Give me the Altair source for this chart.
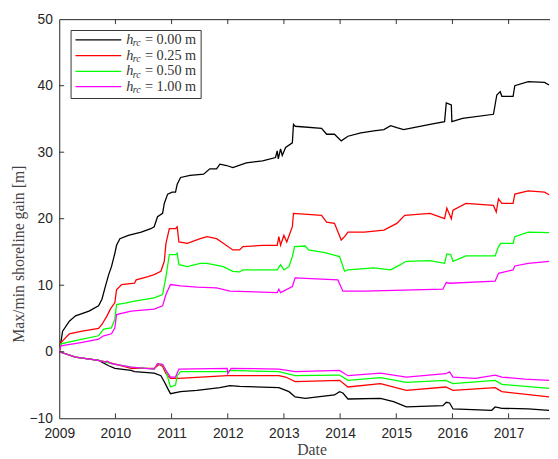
import altair as alt
import pandas as pd

# ---------------- data ----------------
series_names = ["0.00 m", "0.25 m", "0.50 m", "1.00 m"]
series_colors = ["#000000", "#ff0000", "#00ff00", "#ff00ff"]

bk_max_x = [2009.00, 2009.03, 2009.06, 2009.18, 2009.29, 2009.53, 2009.70, 2009.76, 2009.82, 2009.88,
            2009.93, 2009.99, 2010.02, 2010.08, 2010.23, 2010.46, 2010.63, 2010.69, 2010.75, 2010.84,
            2010.87, 2010.93, 2011.01, 2011.07, 2011.10, 2011.16, 2011.33, 2011.57, 2011.68, 2011.80,
            2011.86, 2011.98, 2012.09, 2012.33, 2012.62, 2012.85, 2012.88, 2012.90, 2012.94, 2012.97,
            2013.03, 2013.15, 2013.17, 2013.20, 2013.67, 2013.76, 2013.90, 2014.02, 2014.14, 2014.37,
            2014.60, 2014.78, 2014.90, 2015.01, 2015.13, 2015.60, 2015.86, 2015.89, 2015.98, 2015.99,
            2016.18, 2016.73, 2016.79, 2016.85, 2016.88, 2017.08, 2017.11, 2017.35, 2017.64, 2017.72]
bk_max_y = [0.0, 1.5, 3.1, 4.6, 5.4, 6.1, 6.9, 7.9, 9.8, 11.6,
            12.8, 14.8, 16.0, 17.0, 17.5, 18.0, 18.5, 18.8, 20.3, 20.8,
            22.3, 23.7, 24.0, 24.0, 25.2, 26.2, 26.5, 26.7, 27.5, 27.5,
            28.2, 28.0, 27.7, 28.4, 28.7, 29.2, 30.2, 29.0, 30.5, 29.5,
            30.7, 31.4, 34.2, 33.9, 33.6, 32.7, 32.7, 31.7, 32.4, 32.9,
            33.2, 33.4, 34.0, 33.7, 33.4, 34.2, 34.6, 37.4, 37.1, 34.6,
            35.1, 35.7, 38.6, 39.1, 38.4, 38.4, 40.0, 40.6, 40.5, 40.1]

rd_max_x = [2009.00, 2009.03, 2009.18, 2009.41, 2009.70, 2009.76, 2009.85, 2009.91, 2009.99, 2010.02,
            2010.11, 2010.34, 2010.37, 2010.58, 2010.69, 2010.81, 2010.87, 2010.90, 2010.96, 2011.07,
            2011.10, 2011.13, 2011.28, 2011.51, 2011.63, 2011.80, 2011.92, 2012.09, 2012.21, 2012.27,
            2012.62, 2012.88, 2012.91, 2012.94, 2013.00, 2013.05, 2013.15, 2013.17, 2013.67, 2013.76,
            2013.90, 2014.02, 2014.08, 2014.14, 2014.43, 2014.78, 2015.01, 2015.15, 2015.60, 2015.86,
            2015.90, 2015.98, 2016.01, 2016.24, 2016.73, 2016.78, 2016.82, 2016.88, 2017.08, 2017.11,
            2017.35, 2017.64, 2017.72]
rd_max_y = [0.0, 1.4, 2.7, 3.1, 3.5, 4.1, 5.4, 6.4, 7.4, 9.3,
            10.1, 10.3, 10.8, 11.3, 11.6, 12.1, 13.6, 16.3, 18.5, 18.5,
            18.8, 16.5, 16.3, 17.0, 17.3, 17.0, 16.3, 15.3, 15.3, 15.8,
            16.0, 16.0, 17.3, 16.0, 17.5, 16.5, 18.8, 20.8, 20.5, 19.5,
            19.3, 16.8, 17.3, 18.0, 18.0, 18.3, 19.3, 20.5, 20.8, 20.0,
            21.6, 20.0, 21.3, 22.3, 22.0, 21.0, 23.0, 22.3, 22.3, 23.7,
            24.2, 24.0, 23.6]

gr_max_x = [2009.00, 2009.03, 2009.41, 2009.70, 2009.79, 2009.93, 2009.99, 2010.02, 2010.17, 2010.34,
            2010.69, 2010.84, 2010.90, 2010.96, 2011.07, 2011.10, 2011.13, 2011.28, 2011.51, 2011.63,
            2011.92, 2012.09, 2012.21, 2012.27, 2012.88, 2012.94, 2013.00, 2013.09, 2013.15, 2013.19,
            2013.38, 2013.44, 2013.73, 2013.99, 2014.08, 2014.14, 2014.60, 2014.90, 2015.01, 2015.18,
            2015.60, 2015.86, 2015.90, 2015.97, 2016.01, 2016.24, 2016.76, 2016.82, 2016.86, 2017.08,
            2017.11, 2017.35, 2017.72]
gr_max_y = [0.0, 1.2, 1.9, 2.4, 3.4, 3.6, 4.9, 7.1, 7.3, 7.6,
            8.1, 8.6, 11.3, 14.6, 14.6, 14.8, 13.1, 12.8, 13.3, 13.3,
            12.8, 12.1, 12.0, 12.3, 12.3, 13.1, 12.3, 12.8, 14.3, 15.8,
            15.9, 15.3, 14.9, 14.3, 12.1, 12.3, 12.6, 12.3, 12.8, 13.6,
            13.7, 13.3, 14.7, 14.6, 13.6, 14.4, 14.4, 15.8, 16.3, 16.3,
            17.3, 18.0, 17.9]

mg_max_x = [2009.00, 2009.03, 2009.41, 2009.70, 2009.79, 2009.93, 2009.99, 2010.02, 2010.28, 2010.69,
            2010.84, 2010.90, 2010.98, 2011.16, 2011.45, 2011.80, 2012.04, 2012.88, 2012.91, 2012.94,
            2013.15, 2013.20, 2013.96, 2014.05, 2014.43, 2015.83, 2015.89, 2015.95, 2016.76, 2016.82,
            2017.08, 2017.11, 2017.35, 2017.72]
mg_max_y = [0.0, 0.9, 1.4, 1.9, 2.4, 2.7, 3.6, 5.6, 6.1, 6.4,
            6.9, 8.6, 10.1, 9.9, 9.7, 9.6, 9.1, 8.9, 9.4, 8.9,
            9.8, 11.1, 10.8, 9.1, 9.1, 9.4, 10.4, 10.3, 10.6, 11.8,
            12.3, 12.9, 13.3, 13.6]

bk_min_x = [2009.00, 2009.29, 2009.70, 2009.88, 2009.99, 2010.28, 2010.34, 2010.69, 2010.81, 2010.87,
            2010.93, 2010.98, 2011.16, 2011.45, 2011.86, 2012.04, 2012.21, 2012.91, 2013.09, 2013.20,
            2013.38, 2013.90, 2013.99, 2014.05, 2014.14, 2014.72, 2014.95, 2015.18, 2015.83, 2015.89,
            2015.95, 2016.01, 2016.70, 2016.76, 2016.88, 2017.35, 2017.72]
bk_min_y = [0.0, -0.8, -1.3, -2.1, -2.5, -2.8, -3.0, -3.2, -3.6, -4.5,
            -5.5, -6.3, -6.0, -5.8, -5.4, -5.1, -5.2, -5.4, -6.0, -6.8,
            -7.0, -6.5, -6.0, -6.2, -7.1, -7.0, -7.5, -8.3, -8.1, -7.6,
            -7.7, -8.6, -8.8, -8.3, -8.5, -8.6, -8.8]

rd_min_x = [2009.00, 2009.29, 2009.70, 2009.88, 2010.28, 2010.69, 2010.78, 2010.84, 2010.90, 2010.98,
            2011.13, 2011.99, 2012.91, 2013.03, 2013.20, 2013.99, 2014.14, 2014.72, 2015.18, 2015.88,
            2016.01, 2016.76, 2016.88, 2017.72]
rd_min_y = [0.0, -0.8, -1.3, -1.6, -2.5, -2.5, -1.9, -2.2, -3.3, -4.0,
            -4.0, -3.6, -3.6, -3.8, -4.5, -4.3, -5.3, -4.8, -5.8, -5.3,
            -5.8, -5.4, -6.0, -6.8]

gr_min_x = [2009.00, 2009.29, 2009.70, 2009.93, 2010.28, 2010.69, 2010.75, 2010.84, 2010.90, 2010.98,
            2011.07, 2011.10, 2011.16, 2011.99, 2012.04, 2012.91, 2013.20, 2013.99, 2014.14, 2014.72,
            2015.18, 2015.88, 2016.01, 2016.76, 2016.88, 2017.72]
gr_min_y = [0.0, -0.8, -1.3, -1.8, -2.3, -2.6, -1.8, -2.0, -2.9, -5.3,
            -5.0, -3.6, -3.0, -3.0, -2.8, -3.0, -3.6, -3.5, -4.3, -3.9,
            -4.6, -4.3, -4.8, -4.3, -4.9, -5.5]

mg_min_x = [2009.00, 2009.29, 2009.70, 2009.82, 2009.85, 2009.93, 2010.28, 2010.69, 2010.75, 2010.84,
            2010.90, 2010.98, 2011.07, 2011.13, 2011.99, 2012.00, 2012.06, 2012.91, 2013.20, 2013.99,
            2014.14, 2014.72, 2015.18, 2015.88, 2015.95, 2016.01, 2016.41, 2016.76, 2016.88, 2017.29,
            2017.72]
mg_min_y = [0.0, -0.8, -1.3, -1.6, -1.4, -1.8, -2.3, -2.6, -1.8, -1.9,
            -2.8, -3.8, -3.8, -2.6, -2.5, -3.3, -2.5, -2.6, -3.0, -2.8,
            -3.6, -3.2, -3.8, -3.3, -3.0, -3.8, -4.0, -3.5, -3.8, -4.1,
            -4.3]

x_ticks = [2009, 2010, 2011, 2012, 2013, 2014, 2015, 2016, 2017]
y_ticks = [-10, 0, 10, 20, 30, 40, 50]
legend_rows = ["= 0.00 m", "= 0.25 m", "= 0.50 m", "= 1.00 m"]

# ---------------- layout ----------------
W, H = 498, 405
X_MAX = 2009 + W / 57.0
TICK = 5

curves = [
    (0, bk_max_x, bk_max_y), (0, bk_min_x, bk_min_y),
    (1, rd_max_x, rd_max_y), (1, rd_min_x, rd_min_y),
    (2, gr_max_x, gr_max_y), (2, gr_min_x, gr_min_y),
    (3, mg_max_x, mg_max_y), (3, mg_min_x, mg_min_y),
]

X = alt.X("year:Q",
          scale=alt.Scale(domain=[2009, X_MAX], nice=False, zero=False),
          axis=alt.Axis(values=x_ticks, format="d", title="Date", labelPadding=9,
                        labelFlush=False, labelOverlap=False, titleX=256, titleY=24,
                        titleBaseline="top", titleAlign="center"))
Y = alt.Y("value:Q",
          scale=alt.Scale(domain=[-10, 50], nice=False, zero=False),
          axis=alt.Axis(values=y_ticks, title="Max/min shoreline gain [m]", labelPadding=7,
                        labelFlush=False, labelOverlap=False, titleX=-33, titleY=238,
                        titleBaseline="bottom", titleAlign="center", titleAngle=270))

layers = []
for si, xs, ys in curves:
    d = pd.DataFrame({"year": xs, "value": ys, "idx": list(range(len(xs)))})
    layers.append(
        alt.Chart(d).mark_line(strokeWidth=1.3, clip=True, color=series_colors[si])
        .encode(x=X, y=Y, order="idx:Q")
    )

# inward ticks (MATLAB style)
xt = pd.DataFrame({"year": x_ticks[1:]})
yt = pd.DataFrame({"value": y_ticks[1:-1]})
tick_color = "#333333"
layers.append(alt.Chart(xt).mark_rule(color=tick_color, strokeWidth=1)
              .encode(x=X, y=alt.value(H), y2=alt.value(H - TICK)))
layers.append(alt.Chart(xt).mark_rule(color=tick_color, strokeWidth=1)
              .encode(x=X, y=alt.value(0), y2=alt.value(TICK)))
layers.append(alt.Chart(yt).mark_rule(color=tick_color, strokeWidth=1)
              .encode(y=Y, x=alt.value(0), x2=alt.value(TICK)))

# legend box
one = pd.DataFrame({"a": [0]})
layers.append(alt.Chart(one).mark_rect(fill="white", stroke="#333333", strokeWidth=1)
              .encode(x=alt.value(12), x2=alt.value(144), y=alt.value(11.5), y2=alt.value(80.5)))
row_y = [21, 37, 53, 68.5]
for i, lab in enumerate(legend_rows):
    ry = row_y[i]
    layers.append(alt.Chart(one).mark_rule(color=series_colors[i], strokeWidth=1.3)
                  .encode(x=alt.value(16.5), x2=alt.value(63), y=alt.value(ry)))
    layers.append(alt.Chart(one).mark_text(align="left", baseline="middle", font="Liberation Serif",
                                           fontStyle="italic", fontSize=14.5, color="#333333")
                  .encode(x=alt.value(68), y=alt.value(ry), text=alt.value("h")))
    layers.append(alt.Chart(one).mark_text(align="left", baseline="middle", font="Liberation Serif",
                                           fontStyle="italic", fontSize=10, color="#333333")
                  .encode(x=alt.value(74.5), y=alt.value(ry + 3.5), text=alt.value("rc")))
    layers.append(alt.Chart(one).mark_text(align="left", baseline="middle", font="Liberation Serif",
                                           fontSize=14.5, color="#333333")
                  .encode(x=alt.value(87), y=alt.value(ry), text=alt.value(lab)))

chart = alt.layer(*layers).properties(
    width=W, height=H,
    autosize=alt.AutoSizeParams(type="none"),
    padding={"left": 52, "top": 8, "right": 0, "bottom": 38},
).configure_view(
    stroke="#222222", strokeWidth=1
).configure_axis(
    ticks=False, tickSize=0, domain=False, grid=False,
    labelFont="Liberation Sans", labelFontSize=14, labelColor="#262626",
    titleFont="Liberation Serif", titleFontSize=16, titleFontWeight="normal", titleColor="#444444",
)

chart.save("out.html", embed_options={"renderer": "svg", "actions": False})
